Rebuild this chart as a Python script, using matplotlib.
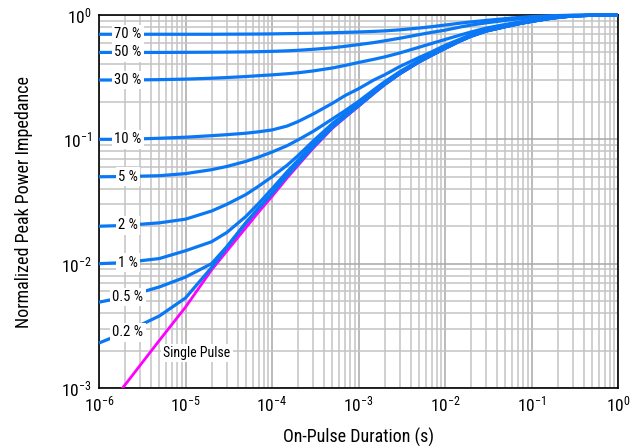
import matplotlib
matplotlib.use('Agg')
import matplotlib.pyplot as plt
from matplotlib import font_manager
from matplotlib.ticker import LogLocator, NullFormatter

# on-pulse duration (s)
t = [1e-6, 2e-6, 5e-6, 1e-5, 2e-5, 3e-5, 5e-5, 7e-5, 1e-4, 1.5e-4, 2e-4, 3e-4, 5e-4, 7e-4,
     1e-3, 1.5e-3, 2e-3, 3e-3, 5e-3, 7e-3, 1e-2, 1.5e-2, 2e-2, 3e-2, 5e-2, 7e-2,
     0.1, 0.15, 0.2, 0.3, 0.5, 1.0]

# normalized impedance
single = [5.7e-4, 1.06e-3, 2.42e-3, 4.47e-3, 8.9e-3, 0.0126, 0.0195, 0.026, 0.0347, 0.049, 0.0617, 0.085,
          0.123, 0.150, 0.184, 0.233, 0.274, 0.335, 0.417, 0.473, 0.537, 0.617, 0.673, 0.741,
          0.804, 0.847, 0.887, 0.929, 0.955, 0.982, 0.995, 1.0]
d02 = [0.0023, 0.0028, 0.0038, 0.0053, 0.0093, 0.0135, 0.0212, 0.0278, 0.0365, 0.051, 0.0635, 0.087,
       0.125, 0.152, 0.186, 0.235, 0.276, 0.337, 0.419, 0.474, 0.538, 0.618, 0.674, 0.742,
       0.805, 0.848, 0.888, 0.930, 0.956, 0.982, 0.995, 1.0]
d05 = [0.0049, 0.0054, 0.0065, 0.0078, 0.0100, 0.0137, 0.0214, 0.028, 0.0368, 0.052, 0.0645, 0.088,
       0.126, 0.153, 0.187, 0.236, 0.277, 0.338, 0.420, 0.475, 0.539, 0.619, 0.675, 0.743,
       0.806, 0.848, 0.888, 0.930, 0.956, 0.982, 0.995, 1.0]
d1 = [0.0100, 0.0102, 0.0110, 0.0127, 0.0150, 0.0178, 0.0240, 0.0305, 0.040, 0.055, 0.068, 0.092,
      0.130, 0.157, 0.191, 0.240, 0.281, 0.341, 0.423, 0.478, 0.542, 0.621, 0.677, 0.745,
      0.807, 0.849, 0.889, 0.930, 0.956, 0.982, 0.995, 1.0]
d2 = [0.0200, 0.0203, 0.0213, 0.0228, 0.0265, 0.0300, 0.0360, 0.0420, 0.050, 0.062, 0.074, 0.097,
      0.134, 0.161, 0.195, 0.244, 0.285, 0.345, 0.427, 0.482, 0.546, 0.625, 0.680, 0.748,
      0.809, 0.851, 0.890, 0.931, 0.957, 0.982, 0.995, 1.0]
d5 = [0.0500, 0.0502, 0.0510, 0.0530, 0.0570, 0.0605, 0.0665, 0.0720, 0.0790, 0.089, 0.099, 0.116,
      0.146, 0.170, 0.202, 0.250, 0.290, 0.350, 0.431, 0.486, 0.549, 0.628, 0.683, 0.750,
      0.811, 0.853, 0.892, 0.932, 0.958, 0.983, 0.996, 1.0]
d10 = [0.100, 0.100, 0.102, 0.104, 0.107, 0.109, 0.112, 0.115, 0.119, 0.128, 0.139, 0.160,
       0.195, 0.225, 0.255, 0.300, 0.330, 0.385, 0.455, 0.505, 0.570, 0.640, 0.695, 0.760,
       0.818, 0.858, 0.895, 0.935, 0.960, 0.984, 0.996, 1.0]
d30 = [0.300, 0.300, 0.302, 0.305, 0.310, 0.314, 0.320, 0.325, 0.330, 0.337, 0.343, 0.355,
       0.375, 0.393, 0.415, 0.440, 0.460, 0.495, 0.550, 0.590, 0.635, 0.690, 0.730, 0.785,
       0.840, 0.875, 0.910, 0.945, 0.967, 0.985, 0.997, 1.0]
d50 = [0.500, 0.500, 0.500, 0.501, 0.502, 0.503, 0.505, 0.507, 0.510, 0.515, 0.520, 0.530,
       0.545, 0.560, 0.578, 0.600, 0.620, 0.650, 0.695, 0.725, 0.755, 0.800, 0.830, 0.865,
       0.905, 0.930, 0.952, 0.972, 0.983, 0.993, 0.999, 1.0]
d70 = [0.700, 0.700, 0.700, 0.700, 0.700, 0.701, 0.702, 0.703, 0.705, 0.708, 0.710, 0.714,
       0.720, 0.725, 0.730, 0.738, 0.745, 0.760, 0.785, 0.805, 0.830, 0.860, 0.880, 0.905,
       0.935, 0.955, 0.970, 0.983, 0.990, 0.996, 0.999, 1.0]

duty_labels = ['70 %', '50 %', '30 %', '10 %', '5 %', '2 %', '1 %', '0.5 %', '0.2 %']
duty_curves = [d70, d50, d30, d10, d5, d2, d1, d05, d02]

label_t = 2.16e-6
single_label_pos = (1.36e-5, 1.9e-3)

names = {f.name for f in font_manager.fontManager.ttflist}
font = 'DejaVu Sans'
for cand in ['Liberation Sans Narrow', 'DejaVu Sans Condensed', 'Roboto Condensed', 'Liberation Sans']:
    if cand in names:
        font = cand
        break
plt.rcParams['font.family'] = [font, 'DejaVu Sans']
plt.rcParams['mathtext.fontset'] = 'custom'
plt.rcParams['mathtext.rm'] = font
plt.rcParams['mathtext.default'] = 'regular'

BLUE = '#0A78F5'
PINK = '#FF00FF'

fig = plt.figure(figsize=(6.44, 4.46), dpi=100)
ax = fig.add_axes([99 / 644, 1 - 388 / 446, 519 / 644, 373 / 446])
ax.set_xscale('log')
ax.set_yscale('log')
ax.set_xlim(1e-6, 1)
ax.set_ylim(1e-3, 1)

ax.plot(t, single, color=PINK, lw=2.0, zorder=3)
for lab, curve in zip(duty_labels, duty_curves):
    ax.plot(t, curve, color=BLUE, lw=2.3, zorder=4, clip_on=False, solid_capstyle='butt')
    ax.text(label_t, curve[1], lab, fontsize=10.5, ha='center', va='center', zorder=5,
            bbox=dict(boxstyle='square,pad=0.15', fc='white', ec='none'))

ax.text(single_label_pos[0], single_label_pos[1], 'Single Pulse', fontsize=10,
        ha='center', va='center', zorder=5,
        bbox=dict(boxstyle='square,pad=0.15', fc='white', ec='none'))

ax.xaxis.set_major_locator(LogLocator(base=10, numticks=10))
ax.yaxis.set_major_locator(LogLocator(base=10, numticks=10))
ax.xaxis.set_minor_locator(LogLocator(base=10, subs=range(2, 10), numticks=100))
ax.yaxis.set_minor_locator(LogLocator(base=10, subs=range(2, 10), numticks=100))
ax.xaxis.set_minor_formatter(NullFormatter())
ax.yaxis.set_minor_formatter(NullFormatter())

ax.grid(True, which='major', color='#a8a8a8', lw=1.1, zorder=0)
ax.grid(True, which='minor', color='#c4c4c4', lw=1.1, zorder=0)
ax.set_axisbelow(True)

ax.tick_params(which='both', length=0, labelsize=12.5, pad=5)
for s in ax.spines.values():
    s.set_color('black')
    s.set_linewidth(1.2)

ax.set_xlabel('On-Pulse Duration (s)', fontsize=13, labelpad=9)
ax.set_ylabel('Normalized Peak Power Impedance', fontsize=13, labelpad=20)

fig.savefig('out.png', dpi=100)
